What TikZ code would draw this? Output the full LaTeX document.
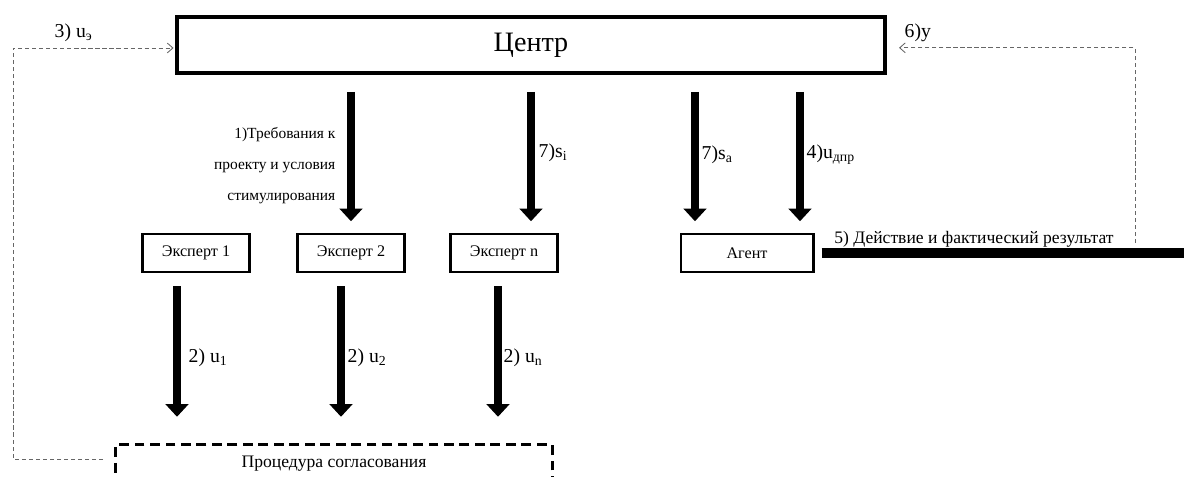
\documentclass[tikz,border=0pt]{standalone}
\usepackage{fontspec}
\setmainfont{Liberation Serif}
\usetikzlibrary{arrows.meta,positioning,calc}

\begin{document}
\begin{tikzpicture}[x=0.025cm, y=-0.025cm,
    main/.style={draw, line width=2.8pt, minimum width=17.7cm, minimum height=1.4cm, font=\fontsize{20}{24}\selectfont},
    box/.style={draw, line width=2.1pt, minimum width=2.68cm, minimum height=0.95cm, font=\fontsize{11.5}{13}\selectfont},
    proc/.style={draw, line width=2.1pt, dash pattern=on 7pt off 4pt, minimum width=10.9cm, anchor=north, text height=12pt, text depth=40pt, inner ysep=4pt, font=\fontsize{12.5}{14}\selectfont},
    arr/.style={line width=5.7pt, -{Triangle[length=9pt,width=16pt]}},
    fb/.style={densely dashed, line width=0.6pt, black!60, -{Straight Barb[length=4pt,width=7pt]}},
    lbl/.style={font=\fontsize{14}{16}\selectfont, inner sep=1pt, anchor=west},
    note/.style={font=\fontsize{11}{22}\selectfont, align=right, inner sep=1pt, anchor=east}
]
\useasboundingbox (0,0) rectangle (1184,477);
\clip (0,0) rectangle (1184,477);

\node[main] (centre) at (531,45) {Центр};
\node[box] (e1) at (196,253) {Эксперт 1};
\node[box] (e2) at (351,253) {Эксперт 2};
\node[box] (en) at (504,253) {Эксперт n};
\node[box, minimum width=3.3cm] (agent) at (747,253) {Агент};
\node[proc] (agree) at (334,443.5) {Процедура согласования};

\coordinate (k1) at (351,0);
\coordinate (k2) at (531,0);
\coordinate (k3) at (695,0);
\coordinate (k4) at (800,0);
\coordinate (d1) at (177,0);
\coordinate (d2) at (341,0);
\coordinate (d3) at (498,0);
\coordinate (lt) at (13,48);
\coordinate (rt) at (1135,243);
\coordinate (edge) at (1184,255);

\draw[arr, shorten <=12pt, shorten >=8pt] (centre.south -| k1) -- (e2.north -| k1);
\draw[arr, shorten <=12pt, shorten >=8pt] (centre.south -| k2) -- (en.north -| k2);
\draw[arr, shorten <=12pt, shorten >=8pt] (centre.south -| k3) -- (agent.north -| k3);
\draw[arr, shorten <=12pt, shorten >=8pt] (centre.south -| k4) -- (agent.north -| k4);

\draw[arr, shorten <=9pt, shorten >=19pt] (e1.south -| d1) -- (agree.north -| d1);
\draw[arr, shorten <=9pt, shorten >=19pt] (e2.south -| d2) -- (agree.north -| d2);
\draw[arr, shorten <=9pt, shorten >=19pt] (en.south -| d3) -- (agree.north -| d3);

\draw[line width=7.8pt, shorten <=5pt] (agent.east) -- (agent.east -| edge);

\draw[fb, shorten >=1pt] ([xshift=-8pt,yshift=-11pt]agree.north west) -| (lt) -- (lt -| centre.west);
\draw[fb] (rt) |- ([xshift=8.5pt,yshift=-2pt]centre.east);

\node[note] (req) at (337,166) {1)Требования к\\проекту и условия\\стимулирования};
\node[lbl] (si) at (537,153) {7)s\textsubscript{i}};
\node[lbl] (sa) at (700,155) {7)s\textsubscript{a}};
\node[lbl] (udp) at (805,155) {4)u\textsubscript{дпр}};
\node[lbl] (u1) at (187,358) {2) u\textsubscript{1}};
\node[lbl] (u2) at (346,358) {2) u\textsubscript{2}};
\node[lbl] (un) at (502,358) {2) u\textsubscript{n}};
\node[lbl] (ue) at (53,33) {3) u\textsubscript{э}};
\node[lbl] (yy) at (903,33) {6)y};
\node[font=\fontsize{12.5}{14}\selectfont, anchor=base west, inner sep=0pt] (act) at (834,244) {5) Действие и фактический результат};
\end{tikzpicture}
\end{document}
